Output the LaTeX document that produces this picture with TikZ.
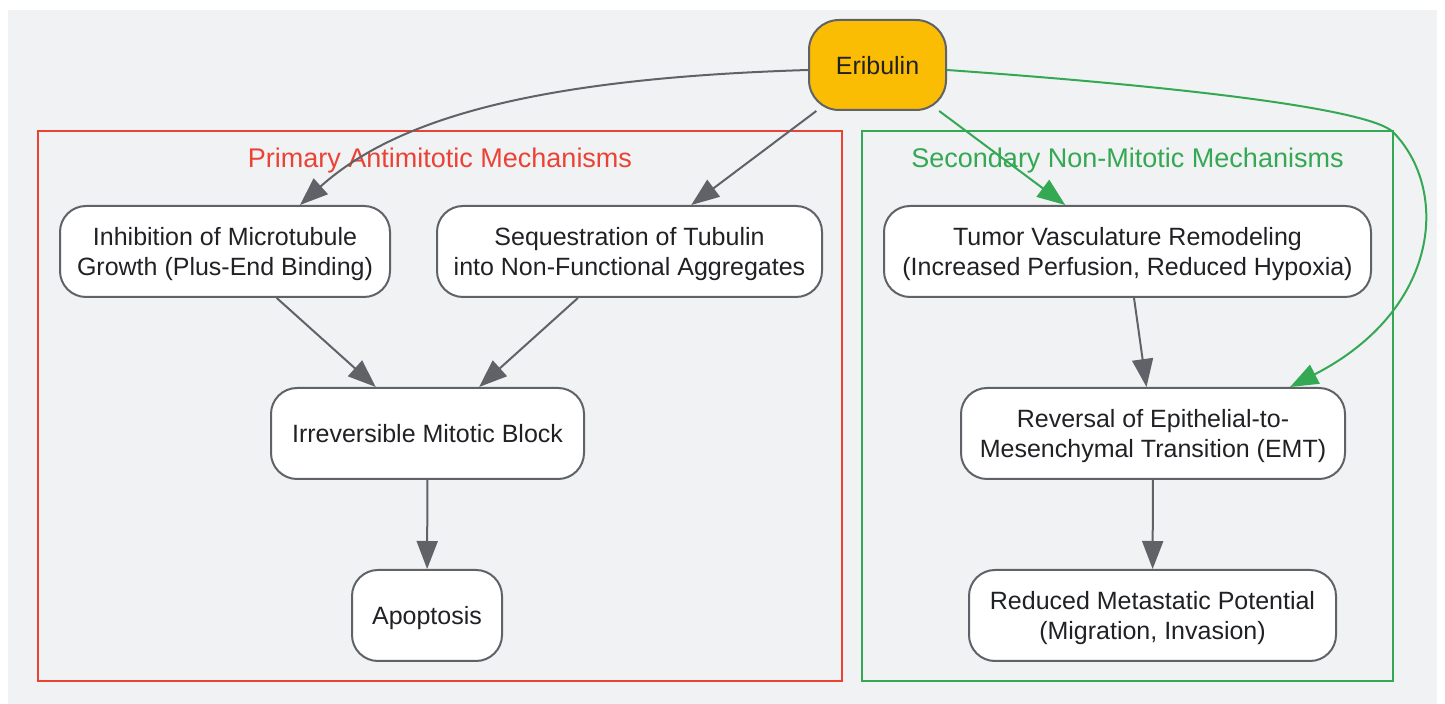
\documentclass[tikz,border=0pt]{standalone}
\usepackage{fontspec}
\setmainfont{Liberation Sans}
\usetikzlibrary{arrows.meta}
\definecolor{bggray}{HTML}{F1F2F4}
\definecolor{edgegray}{HTML}{5F6368}
\definecolor{gred}{HTML}{EA4335}
\definecolor{ggreen}{HTML}{34A853}
\definecolor{gyellow}{HTML}{FBBC04}
\definecolor{txtdark}{HTML}{202124}

\begin{document}
\begin{tikzpicture}[x=0.5pt,y=0.5pt]
\tikzstyle{every node}+=[inner sep=0pt]
\tikzstyle{mechbox}=[draw=edgegray,line width=1pt,fill=white,rounded corners=13pt,minimum height=45.5pt,align=center,text=txtdark,font=\fontsize{12.5}{15}\selectfont]
\tikzstyle{oneline}=[mechbox,text height=12pt,text depth=2.5pt]
\tikzstyle{twoline}=[mechbox,text depth=-0.8pt]
\tikzstyle{grouptitle}=[font=\fontsize{13.5}{16}\selectfont]
\tikzstyle{flow}=[draw=edgegray,line width=1pt,-{Triangle[length=14pt,width=10.5pt]}]
\tikzstyle{greenflow}=[flow,draw=ggreen]
\useasboundingbox (0,0) rectangle (1445,-704);
\fill [bggray] (8,-10) rectangle (1437,-704);
\draw [gred,line width=1pt] (38,-131) rectangle (842,-681);
\draw [ggreen,line width=1pt] (862,-131) rectangle (1393,-681);
\node [grouptitle,text=gred] (primtitle) at (440,-161) {Primary Antimitotic Mechanisms};
\node [grouptitle,text=ggreen] (sectitle) at (1127.5,-161) {Secondary Non-Mitotic Mechanisms};
\node [oneline,fill=gyellow,rounded corners=15pt,minimum width=68.5pt,minimum height=45pt] (erib) at (877.5,-65) {Eribulin};
\node [twoline,minimum width=165pt] (inhib) at (225,-251.5) {Inhibition of Microtubule\\Growth (Plus-End Binding)};
\node [twoline,minimum width=192.5pt] (seq) at (629.5,-251.5) {Sequestration of Tubulin\\into Non-Functional Aggregates};
\node [twoline,minimum width=243.5pt] (tumor) at (1127.5,-251.5) {Tumor Vasculature Remodeling\\(Increased Perfusion, Reduced Hypoxia)};
\node [oneline,minimum width=156.5pt] (irrev) at (427.5,-433.5) {Irreversible Mitotic Block};
\node [twoline,minimum width=192pt] (revers) at (1153,-433.5) {Reversal of Epithelial-to-\\Mesenchymal Transition (EMT)};
\node [oneline,minimum width=75pt] (apop) at (427,-615.5) {Apoptosis};
\node [twoline,minimum width=183.5pt] (reduced) at (1152.5,-615.5) {Reduced Metastatic Potential\\(Migration, Invasion)};
\draw [flow] ([yshift=-2.5pt]erib.west) .. controls +(-260,-8) and +(100,90) .. ([xshift=37.5pt]inhib.north);
\draw [flow] (erib) -- (seq);
\draw [greenflow] (erib) -- (tumor);
\draw [greenflow] ([yshift=-2.5pt]erib.east) .. controls (1200,-88) and (1370,-110) .. (1393,-132) .. controls (1450,-190) and (1440,-310) .. ([xshift=68.5pt]revers.north);
\draw [flow] (inhib) -- (irrev);
\draw [flow] (seq) -- (irrev);
\draw [flow] (tumor) -- (revers);
\draw [flow] (irrev) -- (apop);
\draw [flow] (revers) -- (reduced);
\end{tikzpicture}
\end{document}
